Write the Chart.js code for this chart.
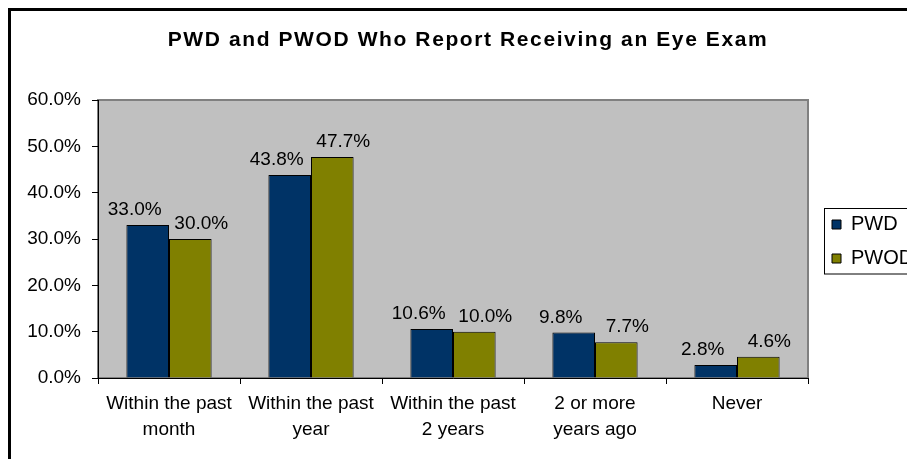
<!DOCTYPE html>
<html>
<head>
<meta charset="utf-8">
<title>Eye Exam</title>
<script src="https://cdn.jsdelivr.net/npm/chart.js@4/dist/chart.umd.min.js"></script>
<style>
  html, body { margin: 0; padding: 0; background: #fff; overflow: hidden; }
  .chart-box {
    position: absolute; left: 8px; top: 8px;
    width: 912px; height: 470px;
    border: 3px solid #000; background: #fff;
  }
</style>
</head>
<body>
<div class="chart-box"><canvas id="eyeChart" width="912" height="470"></canvas></div>
<script>
// Survey data
const categories = [
    ['Within the past', 'month'],
    ['Within the past', 'year'],
    ['Within the past', '2 years'],
    ['2 or more', 'years ago'],
    'Never'
];
const seriesNames = ['PWD', 'PWOD'];
const pwdValues = [33.0, 43.8, 10.6, 9.8, 2.8];
const pwodValues = [30.0, 47.7, 10.0, 7.7, 4.6];
const yTickMax = 60;
const yTickStep = 10;

const chartTitle = 'PWD and PWOD Who Report Receiving an Eye Exam';
const FONT = "'Liberation Sans', Arial, sans-serif";

// gray plot area with a darker frame on top/right
const plotBackground = {
    id: 'plotBackground',
    beforeDraw(chart) {
        const { ctx, chartArea: a } = chart;
        ctx.save();
        ctx.fillStyle = '#c0c0c0';
        ctx.fillRect(a.left, a.top, a.right - a.left, a.bottom - a.top);
        ctx.strokeStyle = '#808080';
        ctx.lineWidth = 2;
        ctx.strokeRect(a.left, a.top, a.right - a.left, a.bottom - a.top);
        ctx.restore();
    }
};

// title, slightly spaced out
const titleText = {
    id: 'titleText',
    afterDraw(chart) {
        const ctx = chart.ctx;
        ctx.save();
        ctx.font = 'bold 21px ' + FONT;
        ctx.letterSpacing = '1.6px';
        ctx.fillStyle = '#000';
        ctx.textAlign = 'center';
        ctx.textBaseline = 'middle';
        ctx.fillText(chartTitle, chart.width / 2 + 1, 29);
        ctx.restore();
    }
};

// value labels above the bars
const valueLabels = {
    id: 'valueLabels',
    afterDatasetsDraw(chart) {
        const ctx = chart.ctx;
        ctx.save();
        ctx.font = '19px ' + FONT;
        ctx.fillStyle = '#000';
        ctx.textAlign = 'center';
        ctx.textBaseline = 'alphabetic';
        chart.data.datasets.forEach((ds, i) => {
            const shift = i === 0 ? -13 : 11;
            chart.getDatasetMeta(i).data.forEach((bar, j) => {
                ctx.fillText(ds.data[j].toFixed(1) + '%', bar.x + shift, bar.y - 10);
            });
        });
        ctx.restore();
    }
};

// fixed legend width and a framed legend box
const legendFrame = {
    id: 'legendFrame',
    beforeLayout(chart) {
        const lg = chart.legend;
        if (lg && !lg._fixedFit) {
            const fit = lg.fit;
            lg.fit = function() {
                fit.call(this);
                this.width = chart.width - 797;
            };
            lg._fixedFit = true;
        }
    },
    afterLayout(chart) {
        const lg = chart.legend;
        if (lg) {
            lg.left += 10;
            lg.top -= 49;
            lg.bottom -= 49;
        }
    },
    afterDraw(chart) {
        const lg = chart.legend;
        if (!lg || !lg.legendHitBoxes.length) return;
        const boxes = lg.legendHitBoxes;
        const first = boxes[0];
        const last = boxes[boxes.length - 1];
        const ctx = chart.ctx;
        ctx.save();
        ctx.strokeStyle = '#000';
        ctx.lineWidth = 1;
        const x = Math.round(first.left - 8) + 0.5;
        const y = Math.round(first.top - 7) + 0.5;
        const h = Math.round(last.top + last.height + 5) - y;
        ctx.strokeRect(x, y, chart.width + 20 - x, h);
        ctx.restore();
    }
};

const ctx = document.getElementById('eyeChart').getContext('2d');
new Chart(ctx, {
    type: 'bar',
    data: {
        labels: categories,
        datasets: [
            {
                label: seriesNames[0],
                data: pwdValues,
                backgroundColor: '#003366',
                borderColor: '#000',
                borderWidth: 1,
                categoryPercentage: 0.6,
                barPercentage: 1.0
            },
            {
                label: seriesNames[1],
                data: pwodValues,
                backgroundColor: '#808000',
                borderColor: '#000',
                borderWidth: 1,
                categoryPercentage: 0.6,
                barPercentage: 1.0
            }
        ]
    },
    options: {
        responsive: false,
        animation: false,
        devicePixelRatio: 1,
        layout: { padding: { top: 89, left: 0, right: 0, bottom: 0 } },
        plugins: {
            title: { display: false },
            tooltip: { enabled: false },
            legend: {
                position: 'right',
                labels: {
                    boxWidth: 9,
                    boxHeight: 9,
                    padding: 14,
                    color: '#000',
                    font: { family: FONT, size: 20 }
                }
            }
        },
        scales: {
            x: {
                afterFit(scale) { scale.height = 103; },
                grid: {
                    drawOnChartArea: false,
                    drawTicks: true,
                    tickLength: 6,
                    color: '#000',
                    offset: true
                },
                border: { display: true, color: '#000', width: 1 },
                ticks: {
                    color: '#000',
                    padding: 7,
                    maxRotation: 0,
                    autoSkip: false,
                    font: { family: FONT, size: 19, lineHeight: 1.37 }
                }
            },
            y: {
                min: 0,
                max: yTickMax,
                afterFit(scale) { scale.width = 87; },
                grid: {
                    drawOnChartArea: false,
                    drawTicks: true,
                    tickLength: 6,
                    color: '#000'
                },
                border: { display: true, color: '#000', width: 1 },
                ticks: {
                    stepSize: yTickStep,
                    color: '#000',
                    padding: 11,
                    font: { family: FONT, size: 19 },
                    callback: v => v.toFixed(1) + '%'
                }
            }
        }
    },
    plugins: [plotBackground, titleText, valueLabels, legendFrame]
});
</script>
</body>
</html>
